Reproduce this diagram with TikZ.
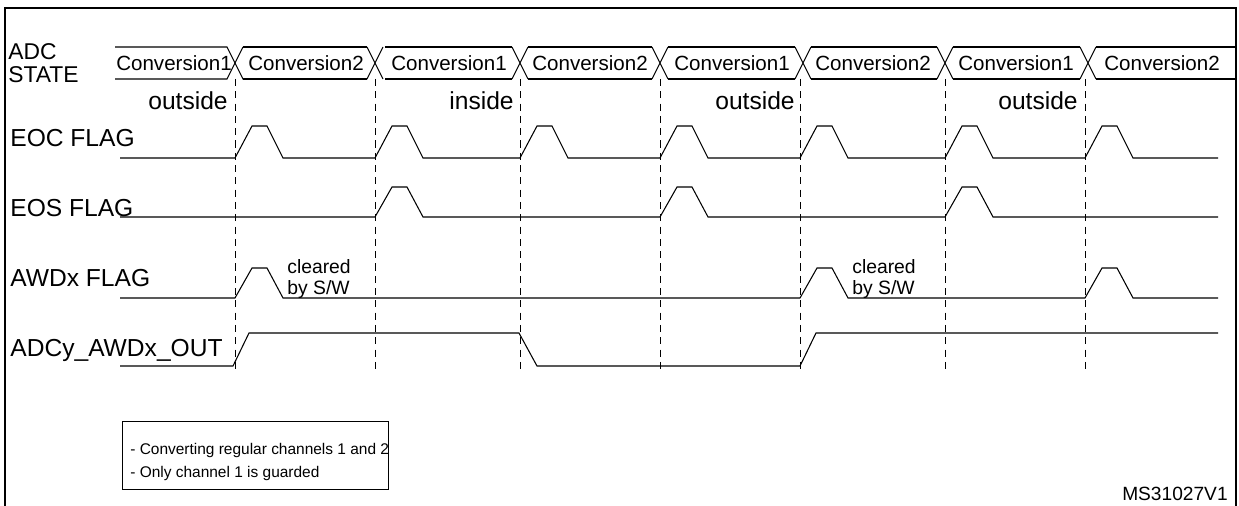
\documentclass[tikz,border=0pt]{standalone}
\usepackage{fontspec}
\setmainfont{Liberation Sans}
\usetikzlibrary{positioning}
\begin{document}
\begin{tikzpicture}[
  x=0.02cm, y=-0.02cm,
  txt/.style = {inner sep=0pt, font=\fontsize{14}{15}\selectfont},
  conv/.style = {inner sep=0pt, font=\fontsize{11.7}{13}\selectfont},
  note/.style = {inner sep=0pt, font=\fontsize{11}{12.5}\selectfont},
  sig/.style = {line width=0.6pt},
  bound/.style = {line width=0.5pt, dash pattern=on 4pt off 3pt},
]
  \useasboundingbox (0,0) rectangle (1239,506);
  \draw[line width=0.8pt] (5,8) rectangle (1236,530);

  % ADC state bus
  \node[conv,font=\fontsize{13}{13}\selectfont,align=left,anchor=west] (state) at (8,63) {ADC\\STATE};
  \draw[sig] (115,47) -- (227,47) -- (243,79) -- (367,79);
  \foreach \a/\b in {243/367,385/512,528/652,668/795,811/937,953/1080}
    \draw[sig] (\a,47) -- (\b,47) (\a,79) -- (\b,79);
  \draw[sig] (115,79) -- (227,79) -- (243,47);
  \foreach \t in {375,520,660,803,945,1088}
    \draw[sig] (\t-8,47) -- (\t+8,79) (\t-8,79) -- (\t+8,47);
  \draw[sig] (1096,47) -- (1236,47) (1096,79) -- (1236,79);
  \foreach \x/\l [count=\i] in {174/1,306/2,449/1,590/2,732/1,873/2,1016/1,1162/2}
    \node[conv] (conv\i) at (\x,63) {Conversion\l};

  % boundaries
  \foreach \t in {235,375,520,660,800,945,1085}
    \draw[bound] (\t,79) -- (\t,370);
  \node[txt,anchor=east] (out1) at (228,101) {outside};
  \node[txt,anchor=east] (in1) at (514,101) {inside};
  \node[txt,anchor=east] (out2) at (795,101) {outside};
  \node[txt,anchor=east] (out3) at (1078,101) {outside};

  % EOC flag
  \node[txt,anchor=west] (eoc) at (10,138) {EOC FLAG};
  \draw[sig] (120,158) -- (235,158)
    \foreach \t in {235,375,520,660,800,945} { -- (\t,158) -- (\t+17,126) -- (\t+32,126) -- (\t+48,158) }
    -- (1085,158) -- (1102,126) -- (1117,126) -- (1133,158) -- (1218,158);

  % EOS flag
  \node[txt,anchor=west] (eos) at (10,208) {EOS FLAG};
  \draw[sig] (120,217)
    \foreach \t in {375,660,945} { -- (\t,217) -- (\t+17,187) -- (\t+32,187) -- (\t+48,217) }
    -- (1218,217);

  % AWDx flag
  \node[txt,anchor=west] (awd) at (10,278) {AWDx FLAG};
  \draw[sig] (120,298)
    \foreach \t in {235,800,1085} { -- (\t,298) -- (\t+17,268) -- (\t+32,268) -- (\t+48,298) }
    -- (1218,298);
  \node[note,align=left,anchor=west] (clr1) at (287,279) {cleared\\by S/W};
  \node[note,align=left,anchor=west] (clr2) at (852,279) {cleared\\by S/W};

  % ADCy_AWDx_OUT
  \node[txt,anchor=west] (out) at (10,350) {ADCy\_AWDx\_OUT};
  \draw[sig] (120,366) -- (233,366) -- (249,333) -- (519,333) -- (537,366)
    -- (800,366) -- (816,333) -- (1218,333);

  % legend
  \node[draw,line width=0.6pt,minimum width=266*0.02cm,minimum height=68*0.02cm,anchor=north west] (leg) at (122,421) {};
  \node[inner sep=0pt,font=\fontsize{8.8}{13.6}\selectfont,align=left,anchor=west] (legtxt) at (130,462) {- Converting regular channels 1 and 2\\- Only channel 1 is guarded};
  \node[inner sep=0pt,font=\fontsize{10.9}{12}\selectfont,anchor=east] (ref) at (1228,494) {MS31027V1};
\end{tikzpicture}
\end{document}
